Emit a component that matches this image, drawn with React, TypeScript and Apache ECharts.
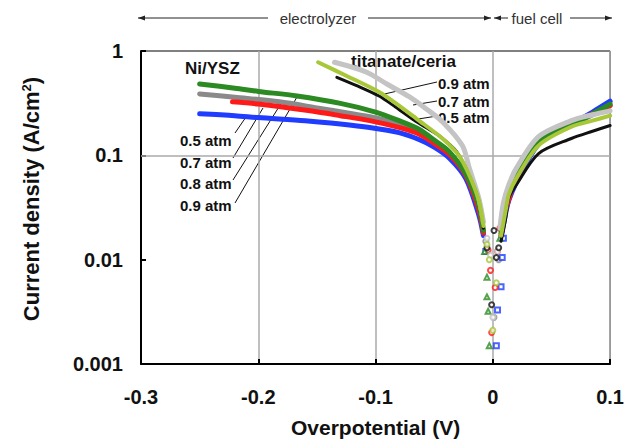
import React, { useEffect, useRef } from "react";
import * as echarts from "echarts";

// ---------- data ----------
const xTicks = ["-0.3", "-0.2", "-0.1", "0", "0.1"];
const yTickLabels = ["0.001", "0.01", "0.1", "1"];
const pressureLabels = ["0.5 atm", "0.7 atm", "0.8 atm", "0.9 atm"];
const titanateLabels = ["0.9 atm", "0.7 atm", "0.5 atm"];

// Ni/YSZ 0.5 atm (blue)
const niBlueLeft = [[-0.25, 0.25], [-0.22, 0.24], [-0.2, 0.23], [-0.16, 0.215], [-0.13, 0.2], [-0.105, 0.185], [-0.08, 0.165], [-0.063, 0.142], [-0.05, 0.12], [-0.037, 0.094], [-0.023, 0.06], [-0.012, 0.027], [-0.008, 0.017]];
const niBlueRight = [[0.007, 0.016], [0.011, 0.028], [0.0136, 0.037], [0.02, 0.055], [0.03, 0.09], [0.039, 0.128], [0.05, 0.16], [0.067, 0.2], [0.085, 0.26], [0.1, 0.33]];
const niBlueDip = [[0.009, 0.016], [0.008, 0.0105], [0.007, 0.0055], [0.004, 0.0033], [0.003, 0.0015], [-0.006, 0.012]];
// Ni/YSZ 0.7 atm (red)
const niRedLeft = [[-0.222, 0.326], [-0.2, 0.31], [-0.159, 0.27], [-0.13, 0.24], [-0.105, 0.215], [-0.08, 0.185], [-0.063, 0.16], [-0.05, 0.13], [-0.037, 0.102], [-0.023, 0.064], [-0.012, 0.03], [-0.008, 0.018]];
const niRedRight = [[0.007, 0.017], [0.011, 0.03], [0.02, 0.06], [0.039, 0.13], [0.067, 0.2], [0.085, 0.25], [0.1, 0.3]];
const niRedDip = [[-0.004, 0.0123], [-0.002, 0.0079], [0.002, 0.0054], [-0.001, 0.002], [0.004, 0.012], [0.006, 0.02]];
// Ni/YSZ 0.8 atm (gray)
const niGrayLeft = [[-0.25, 0.388], [-0.22, 0.36], [-0.182, 0.326], [-0.15, 0.285], [-0.12, 0.25], [-0.097, 0.225], [-0.08, 0.2], [-0.063, 0.168], [-0.05, 0.135], [-0.037, 0.104], [-0.023, 0.065], [-0.012, 0.031], [-0.008, 0.018]];
const niGrayRight = [[0.007, 0.017], [0.011, 0.03], [0.02, 0.06], [0.039, 0.13], [0.067, 0.195], [0.085, 0.245], [0.1, 0.3]];
const niGrayDip = [[-0.006, 0.015], [0.005, 0.01], [0.001, 0.0028]];
// Ni/YSZ 0.9 atm (green)
const niGreenLeft = [[-0.25, 0.483], [-0.22, 0.44], [-0.2, 0.41], [-0.167, 0.371], [-0.13, 0.315], [-0.1, 0.26], [-0.08, 0.215], [-0.063, 0.178], [-0.05, 0.14], [-0.037, 0.108], [-0.023, 0.066], [-0.012, 0.033], [-0.008, 0.019]];
const niGreenRight = [[0.007, 0.018], [0.011, 0.032], [0.0136, 0.049], [0.02, 0.07], [0.039, 0.136], [0.067, 0.193], [0.085, 0.25], [0.1, 0.31]];
const niGreenDip = [[-0.005, 0.0068], [-0.005, 0.0044], [-0.004, 0.0032], [-0.003, 0.0015], [-0.007, 0.012], [0.006, 0.016]];
// titanate/ceria 0.5 atm (black)
const tiBlackLeft = [[-0.133, 0.56], [-0.115, 0.46], [-0.097, 0.37], [-0.083, 0.29], [-0.069, 0.224], [-0.057, 0.185], [-0.046, 0.155], [-0.031, 0.109], [-0.02, 0.064], [-0.012, 0.037], [-0.008, 0.02]];
const tiBlackRight = [[0.007, 0.015], [0.011, 0.025], [0.0136, 0.039], [0.02, 0.052], [0.039, 0.104], [0.067, 0.145], [0.085, 0.17], [0.1, 0.193]];
const tiBlackDip = [[0.001, 0.019], [0.003, 0.0105], [-0.001, 0.0037], [-0.005, 0.013], [0.005, 0.013]];
// titanate/ceria 0.7 atm (yellow-green)
const tiYellowLeft = [[-0.149, 0.78], [-0.125, 0.58], [-0.097, 0.405], [-0.08, 0.3], [-0.065, 0.224], [-0.043, 0.145], [-0.029, 0.1], [-0.02, 0.064], [-0.012, 0.037], [-0.008, 0.021]];
const tiYellowRight = [[0.007, 0.017], [0.011, 0.03], [0.0136, 0.042], [0.02, 0.06], [0.039, 0.124], [0.067, 0.188], [0.085, 0.215], [0.1, 0.24]];
const tiYellowDip = [[-0.003, 0.01], [0.003, 0.006], [0.0, 0.0021], [-0.005, 0.014]];
// titanate/ceria 0.9 atm (light gray)
const tiLightLeft = [[-0.135, 0.78], [-0.108, 0.63], [-0.09, 0.48], [-0.071, 0.363], [-0.057, 0.28], [-0.043, 0.21], [-0.026, 0.124], [-0.02, 0.075], [-0.012, 0.039], [-0.008, 0.023]];
const tiLightRight = [[0.006, 0.02], [0.009, 0.035], [0.0136, 0.052], [0.02, 0.075], [0.039, 0.151], [0.067, 0.215], [0.085, 0.245], [0.1, 0.267]];
const tiLightDip = [[0.0, 0.0028], [-0.002, 0.011], [0.004, 0.012], [-0.005, 0.016]];

const groups = [
  { name: "Ni/YSZ 0.8 atm", color: "#8a8a8a", width: 5, symbol: "emptyCircle", left: niGrayLeft, right: niGrayRight, dip: niGrayDip },
  { name: "Ni/YSZ 0.5 atm", color: "#1f3cff", width: 5, symbol: "emptyRect", left: niBlueLeft, right: niBlueRight, dip: niBlueDip },
  { name: "Ni/YSZ 0.7 atm", color: "#ff1a1a", width: 5, symbol: "emptyCircle", left: niRedLeft, right: niRedRight, dip: niRedDip },
  { name: "Ni/YSZ 0.9 atm", color: "#2c8a22", width: 5, symbol: "emptyTriangle", left: niGreenLeft, right: niGreenRight, dip: niGreenDip },
  { name: "titanate 0.9 atm", color: "#c4c4c4", width: 5, symbol: "emptyCircle", left: tiLightLeft, right: tiLightRight, dip: tiLightDip },
  { name: "titanate 0.5 atm", color: "#111111", width: 3, symbol: "emptyCircle", left: tiBlackLeft, right: tiBlackRight, dip: tiBlackDip },
  { name: "titanate 0.7 atm", color: "#a8c83a", width: 4, symbol: "emptyCircle", left: tiYellowLeft, right: tiYellowRight, dip: tiYellowDip },
];

const FONT = "Liberation Sans, Arial, sans-serif";

function arrowHead(x: number, y: number, dir: number) {
  return {
    type: "polygon",
    shape: { points: [[x, y], [x - dir * 7, y - 2.5], [x - dir * 7, y + 2.5]] },
    style: { fill: "#222" },
  };
}

export default function App() {
  const ref = useRef<HTMLDivElement>(null);
  useEffect(() => {
    document.body.style.margin = "0";
    const chart = echarts.init(ref.current!, null, { renderer: "svg" });
    const series: any[] = [];
    groups.forEach((g, i) => {
      series.push({
        type: "line", name: g.name, data: g.left, showSymbol: false, smooth: 0.3,
        lineStyle: { color: g.color, width: g.width, cap: "round" }, itemStyle: { color: g.color }, z: 3 + i,
        ...(i === 0 ? {
          markLine: {
            silent: true, symbol: "none", label: { show: false },
            lineStyle: { color: "#aaaaaa", width: 1.5, type: "solid" },
            data: [{ yAxis: 0.1 }], z: 1,
          },
        } : {}),
      });
      series.push({
        type: "line", name: g.name, data: g.right, showSymbol: false, smooth: 0.3,
        lineStyle: { color: g.color, width: g.width, cap: "round" }, itemStyle: { color: g.color }, z: 3 + i,
      });
      series.push({
        type: "scatter", name: g.name, data: g.dip, symbol: g.symbol, symbolSize: 5,
        itemStyle: { color: g.color, borderColor: g.color, borderWidth: 1.2 }, z: 3 + i,
      });
    });

    const leftLabelY = [140, 162, 183, 205];
    const leftLines = [[235, 133, 246, 117], [233, 158, 263, 108], [233, 180, 282, 102], [235, 203, 297, 97]];
    const rightLabelY = [83, 101, 117];
    const rightLines = [[437, 82, 380, 95], [437, 101, 413, 105], [437, 116, 412, 120]];

    const graphic: any[] = [];
    pressureLabels.forEach((t, i) => {
      graphic.push({ type: "text", x: 180, y: leftLabelY[i], style: { text: t, font: `bold 15px ${FONT}`, fill: "#111", textVerticalAlign: "middle" } });
      const l = leftLines[i];
      graphic.push({ type: "line", shape: { x1: l[0], y1: l[1], x2: l[2], y2: l[3] }, style: { stroke: "#111", lineWidth: 1 } });
    });
    titanateLabels.forEach((t, i) => {
      graphic.push({ type: "text", x: 438, y: rightLabelY[i], style: { text: t, font: `bold 15px ${FONT}`, fill: "#111", textVerticalAlign: "middle" } });
      const l = rightLines[i];
      graphic.push({ type: "line", shape: { x1: l[0], y1: l[1], x2: l[2], y2: l[3] }, style: { stroke: "#111", lineWidth: 1 } });
    });
    graphic.push({ type: "text", x: 185, y: 68, style: { text: "Ni/YSZ", font: `bold 17px ${FONT}`, fill: "#111", textVerticalAlign: "middle" } });
    graphic.push({ type: "text", x: 351, y: 61, style: { text: "titanate/ceria", font: `bold 17px ${FONT}`, fill: "#111", textVerticalAlign: "middle" } });
    // top region arrows
    graphic.push({ type: "text", x: 318, y: 18, style: { text: "electrolyzer", font: `15px ${FONT}`, fill: "#333", textAlign: "center", textVerticalAlign: "middle" } });
    graphic.push({ type: "line", shape: { x1: 138, y1: 18, x2: 268, y2: 18 }, style: { stroke: "#222", lineWidth: 1 } });
    graphic.push(arrowHead(138, 18, -1));
    graphic.push({ type: "line", shape: { x1: 368, y1: 18, x2: 491, y2: 18 }, style: { stroke: "#222", lineWidth: 1 } });
    graphic.push(arrowHead(491, 18, 1));
    graphic.push({ type: "line", shape: { x1: 494, y1: 18, x2: 508, y2: 18 }, style: { stroke: "#222", lineWidth: 1 } });
    graphic.push(arrowHead(494, 18, -1));
    graphic.push({ type: "text", x: 537, y: 18, style: { text: "fuel cell", font: `15px ${FONT}`, fill: "#333", textAlign: "center", textVerticalAlign: "middle" } });
    graphic.push({ type: "line", shape: { x1: 570, y1: 18, x2: 612, y2: 18 }, style: { stroke: "#222", lineWidth: 1 } });
    graphic.push(arrowHead(612, 18, 1));
    // y axis name
    graphic.push({
      type: "text", x: 31, y: 199, rotation: Math.PI / 2,
      style: {
        text: "{a|Current density (A/cm}{s|2}{a|)}", textAlign: "center", textVerticalAlign: "middle",
        rich: { a: { font: `bold 22px ${FONT}`, fill: "#111" }, s: { font: `bold 13px ${FONT}`, fill: "#111", verticalAlign: "top", padding: [0, 0, 9, 0] } },
      },
    });

    chart.setOption({
      animation: false,
      backgroundColor: "#fff",
      grid: { left: 141, right: 15, top: 51, bottom: 76, show: true, borderColor: "#000", borderWidth: 1 },
      xAxis: {
        type: "value", min: -0.3, max: 0.1, interval: 0.1,
        axisLine: { show: true, onZero: false, lineStyle: { color: "#000", width: 2 } },
        axisTick: { show: true, inside: true, length: 5, lineStyle: { color: "#000", width: 2 } },
        splitLine: { show: true, lineStyle: { color: "#aaaaaa", width: 1.5 } },
        axisLabel: {
          margin: 23, color: "#111", fontSize: 20, fontWeight: "bold", fontFamily: FONT,
          formatter: (v: number) => xTicks[Math.round((v + 0.3) * 10)] ?? "",
        },
        name: "Overpotential (V)", nameLocation: "middle", nameGap: 53,
        nameTextStyle: { color: "#111", fontSize: 21, fontWeight: "bold", fontFamily: FONT },
      },
      yAxis: {
        type: "log", logBase: 10, min: 0.001, max: 1,
        axisLine: { show: true, onZero: false, lineStyle: { color: "#000", width: 2 } },
        axisTick: { show: true, inside: true, length: 5, lineStyle: { color: "#000", width: 2 } },
        splitLine: { show: false },
        minorTick: { show: false },
        axisLabel: {
          margin: 18, color: "#111", fontSize: 20, fontWeight: "bold", fontFamily: FONT,
          formatter: (v: number) => yTickLabels[Math.round(Math.log10(v) + 3)] ?? "",
        },
      },
      graphic,
      series,
    });
    return () => chart.dispose();
  }, []);
  return <div ref={ref} style={{ width: 627, height: 443 }} />;
}
